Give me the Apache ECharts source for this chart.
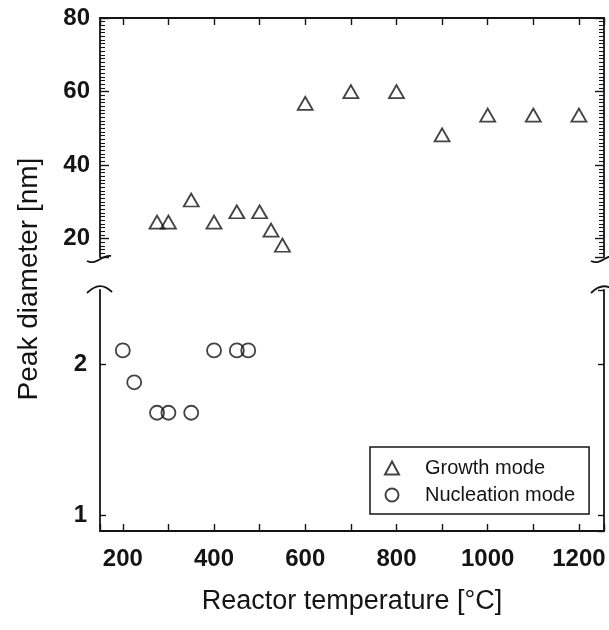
<!DOCTYPE html>
<html>
<head>
<meta charset="utf-8">
<script src="https://cdn.jsdelivr.net/npm/echarts@6.0.0/dist/echarts.min.js"></script>
<style>
    html, body { margin: 0; padding: 0; background: #fff; }
    #chart { width: 609px; height: 630px; }
</style>
</head>
<body>
<div id="chart"></div>
<script>
    // data
    var seriesNames = ['Growth mode', 'Nucleation mode'];
    var growthTemp = [275, 300, 350, 400, 450, 500, 525, 550, 600, 700, 800, 900, 1000, 1100, 1200];
    var growthDiameter = [24.5, 24.5, 30.5, 24.5, 27.3, 27.3, 22.3, 18.2, 56.8, 60, 60, 48.2, 53.6, 53.6, 53.6];
    var nucleationTemp = [200, 225, 275, 300, 350, 400, 450, 475];
    var nucleationDiameter = [2.13, 1.84, 1.6, 1.6, 1.6, 2.13, 2.13, 2.13];

    // layout of the two panels (broken y axis)
    var PLOT_LEFT = 100, PLOT_RIGHT = 604;
    var TOP_Y0 = 18, TOP_Y1 = 257;
    var BOT_Y0 = 290, BOT_Y1 = 531;

    var FONT = 'Liberation Sans, Arial, sans-serif';
    var INK = '#141414';

    var chart = echarts.init(document.getElementById('chart'));

    var lineStyle = { color: INK, width: 1.8 };
    var tickStyle = { color: INK, width: 1.4 };
    var labelStyle = { fontFamily: FONT, fontSize: 24, fontWeight: 'bold', color: INK };

    function pairs(xs, ys) {
        return xs.map(function(x, i) { return [x, ys[i]]; });
    }

    // little wavy marks where the y axis is broken
    function breakMarks(x) {
        return [{
            type: 'bezierCurve',
            shape: { x1: x - 13, y1: TOP_Y1 + 4, cpx1: x - 3, cpy1: TOP_Y1 + 9, cpx2: x + 2, cpy2: TOP_Y1 - 3, x2: x + 11, y2: TOP_Y1 - 1 },
            style: { stroke: INK, lineWidth: 1.8, fill: null }
        }, {
            type: 'bezierCurve',
            shape: { x1: x - 13, y1: BOT_Y0 + 3, cpx1: x - 4, cpy1: BOT_Y0 - 6, cpx2: x + 4, cpy2: BOT_Y0 - 6, x2: x + 12, y2: BOT_Y0 + 2 },
            style: { stroke: INK, lineWidth: 1.8, fill: null }
        }];
    }

    var option = {
        animation: false,
        backgroundColor: '#fff',
        grid: [
            { left: PLOT_LEFT, right: 609 - PLOT_RIGHT, top: TOP_Y0, height: TOP_Y1 - TOP_Y0, outerBoundsMode: 'none' },
            { left: PLOT_LEFT, right: 609 - PLOT_RIGHT, top: BOT_Y0, height: BOT_Y1 - BOT_Y0, outerBoundsMode: 'none' },
            // spans both panels, only used to centre the y title
            { left: PLOT_LEFT, right: 609 - PLOT_RIGHT, top: TOP_Y0 + 9, height: BOT_Y1 - TOP_Y0 - 9, outerBoundsMode: 'none' }
        ],
        xAxis: [{
            gridIndex: 0,
            type: 'value',
            position: 'top',
            min: 150,
            max: 1255,
            axisLine: { show: true, onZero: false, lineStyle: lineStyle },
            axisTick: { show: true, inside: true, length: 7, lineStyle: tickStyle },
            minorTick: { show: true, splitNumber: 2, length: 7, lineStyle: tickStyle },
            axisLabel: { show: false },
            splitLine: { show: false }
        }, {
            gridIndex: 1,
            type: 'value',
            position: 'bottom',
            min: 150,
            max: 1255,
            axisLine: { show: true, onZero: false, lineStyle: lineStyle },
            axisTick: { show: true, inside: true, length: 7, lineStyle: tickStyle },
            minorTick: { show: true, splitNumber: 2, length: 7, lineStyle: tickStyle },
            axisLabel: Object.assign({
                margin: 16,
                showMinLabel: false,
                showMaxLabel: false,
                formatter: function(v) { return String(v); }
            }, labelStyle),
            splitLine: { show: false },
            name: 'Reactor temperature [°C]',
            nameLocation: 'middle',
            nameGap: 57,
            nameTextStyle: { fontFamily: FONT, fontSize: 27, color: INK }
        }, {
            gridIndex: 2,
            type: 'value',
            show: false
        }],
        yAxis: [{
            gridIndex: 0,
            type: 'value',
            position: 'left',
            min: 15,
            max: 80,
            splitNumber: 3,
            axisLine: { show: true, onZero: false, lineStyle: lineStyle },
            axisTick: { show: true, inside: true, length: 9, lineStyle: tickStyle },
            minorTick: { show: true, splitNumber: 20, length: 5, lineStyle: { color: INK, width: 1.1 } },
            axisLabel: Object.assign({ margin: 10, showMinLabel: false }, labelStyle),
            splitLine: { show: false }
        }, {
            gridIndex: 0,
            type: 'value',
            position: 'right',
            min: 15,
            max: 80,
            splitNumber: 3,
            axisLine: { show: true, onZero: false, lineStyle: lineStyle },
            axisTick: { show: true, inside: true, length: 9, lineStyle: tickStyle },
            minorTick: { show: true, splitNumber: 20, length: 5, lineStyle: { color: INK, width: 1.1 } },
            axisLabel: { show: false },
            splitLine: { show: false }
        }, {
            gridIndex: 1,
            type: 'log',
            logBase: 2,
            position: 'left',
            min: 0.93,
            max: 2.81,
            axisLine: { show: true, onZero: false, lineStyle: lineStyle },
            axisTick: { show: true, inside: true, length: 6, lineStyle: tickStyle },
            axisLabel: Object.assign({ margin: 13, showMinLabel: false, showMaxLabel: false }, labelStyle),
            splitLine: { show: false }
        }, {
            gridIndex: 1,
            type: 'log',
            logBase: 2,
            position: 'right',
            min: 0.93,
            max: 2.81,
            axisLine: { show: true, onZero: false, lineStyle: lineStyle },
            axisTick: { show: true, inside: true, length: 6, lineStyle: tickStyle },
            axisLabel: { show: false },
            splitLine: { show: false }
        }, {
            gridIndex: 2,
            type: 'value',
            position: 'left',
            axisLine: { show: false },
            axisTick: { show: false },
            axisLabel: { show: false },
            splitLine: { show: false },
            name: 'Peak diameter [nm]',
            nameLocation: 'middle',
            nameGap: 57,
            nameTextStyle: { fontFamily: FONT, fontSize: 28, color: INK }
        }],
        legend: {
            orient: 'vertical',
            left: 370,
            top: 447,
            data: seriesNames,
            selectedMode: false,
            itemWidth: 14,
            itemHeight: 13,
            itemGap: 7,
            padding: [11, 14, 9, 14],
            borderColor: INK,
            borderWidth: 1.5,
            borderRadius: 0,
            backgroundColor: '#fff',
            textStyle: { fontFamily: FONT, fontSize: 20, color: INK, padding: [0, 0, 0, 21] }
        },
        series: [{
            name: seriesNames[0],
            type: 'scatter',
            xAxisIndex: 0,
            yAxisIndex: 0,
            symbol: 'triangle',
            symbolSize: [15, 13],
            itemStyle: { color: 'rgba(0,0,0,0)', borderColor: INK, borderWidth: 1.8 },
            data: pairs(growthTemp, growthDiameter)
        }, {
            name: seriesNames[1],
            type: 'scatter',
            xAxisIndex: 1,
            yAxisIndex: 2,
            symbol: 'circle',
            symbolSize: 14,
            itemStyle: { color: 'rgba(0,0,0,0)', borderColor: INK, borderWidth: 1.8 },
            data: pairs(nucleationTemp, nucleationDiameter)
        }],
        graphic: breakMarks(PLOT_LEFT).concat(breakMarks(PLOT_RIGHT))
    };

    chart.setOption(option);
</script>
</body>
</html>
